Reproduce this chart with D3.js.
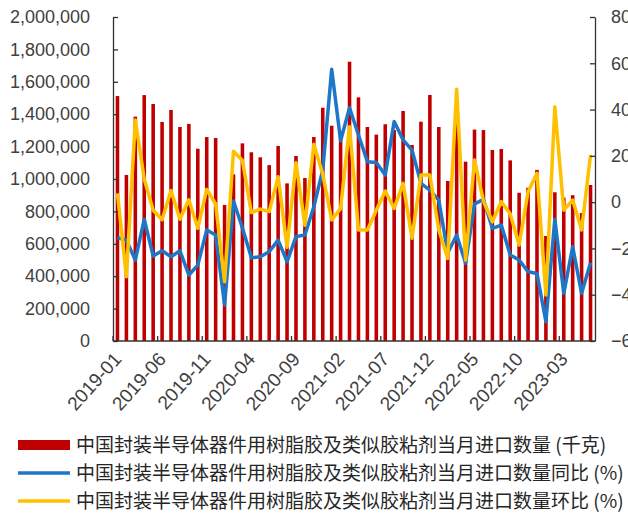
<!DOCTYPE html>
<html>
<head>
<meta charset="utf-8">
<script src="https://cdn.jsdelivr.net/npm/d3@7"></script>
<style>
  body { margin: 0; background: #fff; }
  svg { display: block; }
  .tick text { font-family: "Liberation Sans", Arial, sans-serif; fill: #404040; }
  .legend text { font-family: "Noto Sans CJK SC", sans-serif; fill: #262626; }
</style>
</head>
<body>
<svg width="628" height="517"></svg>
<script>
// monthly categories 2019-01 .. 2023-06
var months = d3.timeMonths(new Date(2019, 0, 1), new Date(2023, 6, 1)).map(d3.timeFormat('%Y-%m'));
var tickLabels = ['2019-01', '2019-06', '2019-11', '2020-04', '2020-09', '2021-02',
                  '2021-07', '2021-12', '2022-05', '2022-10', '2023-03'];

// 当月进口数量 (千克)
var volume = [1512000, 1025000, 1385000, 1518000, 1463000, 1352000, 1426000, 1321000, 1340000, 1187000,
              1259000, 1253000, 840000, 1029000, 1220000, 1165000, 1134000, 1086000, 1204000, 973000,
              1142000, 1006000, 1259000, 1440000, 1329000, 1295000, 1724000, 1504000, 1321000, 1274000,
              1338000, 1302000, 1420000, 1210000, 1354000, 1519000, 1321000, 988000, 1470000, 1107000,
              1305000, 1302000, 1179000, 1185000, 1115000, 915000, 946000, 1056000, 648000, 918000,
              885000, 900000, 790000, 963000];
// 同比 (%)
var yoy = [-15.4, -16.4, -25.0, -7.4, -23.3, -21.0, -23.6, -21.0, -31.5, -27.2,
           -12.0, -14.2, -44.4, 0.5, -11.2, -24.0, -23.6, -21.4, -16.4, -25.7,
           -14.9, -14.2, -2.0, 13.9, 57.4, 26.5, 40.8, 29.0, 17.5, 17.1,
           11.7, 34.8, 26.9, 22.5, 8.1, 5.2, 0.9, -22.0, -14.2, -26.4,
           -0.8, 1.2, -11.3, -9.9, -22.8, -25.0, -30.1, -30.8, -51.7, -7.4,
           -39.4, -19.3, -39.4, -26.2];
// 环比 (%)
var mom = [3.8, -32.2, 35.5, 10.0, -3.5, -7.6, 5.0, -7.4, 1.0, -11.3,
           5.5, -0.8, -34.4, 22.0, 18.0, -4.5, -3.0, -4.1, 11.0, -19.5,
           17.0, -10.0, 25.0, 12.0, -7.7, -2.7, 32.6, -12.0, -12.0, -3.5,
           4.8, -2.7, 8.1, -15.6, 11.7, 11.7, -12.0, -24.3, 48.8, -25.0,
           18.2, 0.5, -8.5, 0.2, -5.0, -18.5, 4.5, 12.5, -40.1, 41.2,
           -3.4, 0.9, -12.0, 20.4];

var legendItems = [
  {name: '中国封装半导体器件用树脂胶及类似胶粘剂当月进口数量 (千克)', color: '#C00000', type: 'bar'},
  {name: '中国封装半导体器件用树脂胶及类似胶粘剂当月进口数量同比 (%)', color: '#1E77C6', type: 'line'},
  {name: '中国封装半导体器件用树脂胶及类似胶粘剂当月进口数量环比 (%)', color: '#FFC000', type: 'line'}
];

var plotL = 113, plotR = 595, plotT = 17, plotB = 341;
var svg = d3.select('svg');

var x = d3.scaleBand()
  .domain(months)
  .range([plotL, plotR])
  .paddingInner(0.6)
  .paddingOuter(0.3);
var step = x.step();
var cx = d => x(d) + x.bandwidth() / 2;

var yL = d3.scaleLinear().domain([0, 2000000]).range([plotB, plotT]);
var yR = d3.scaleLinear().domain([-60, 80]).range([plotB, plotT]);

// bars
svg.append('g')
  .selectAll('rect')
  .data(volume)
  .enter().append('rect')
    .attr('x', (d, i) => x(months[i]))
    .attr('width', x.bandwidth())
    .attr('y', d => yL(d))
    .attr('height', d => yL(0) - yL(d))
    .attr('fill', '#C00000');

// lines
var line = d3.line()
  .x((d, i) => cx(months[i]))
  .y(d => yR(d));

svg.append('path')
  .datum(yoy)
  .attr('d', line)
  .attr('fill', 'none')
  .attr('stroke', '#1E77C6')
  .attr('stroke-width', 3.5)
  .attr('stroke-linejoin', 'round');

svg.append('path')
  .datum(mom)
  .attr('d', line)
  .attr('fill', 'none')
  .attr('stroke', '#FFC000')
  .attr('stroke-width', 3.5)
  .attr('stroke-linejoin', 'round');

// left axis
var axL = svg.append('g')
  .attr('transform', 'translate(' + plotL + ',0)')
  .call(d3.axisLeft(yL)
    .tickValues(d3.range(0, 2000001, 200000))
    .tickFormat(d3.format(','))
    .tickSizeInner(-5)
    .tickSizeOuter(0)
    .tickPadding(23));

// right axis
var axR = svg.append('g')
  .attr('transform', 'translate(' + plotR + ',0)')
  .call(d3.axisRight(yR)
    .tickValues(d3.range(-60, 81, 20))
    .tickSizeInner(-5)
    .tickSizeOuter(0)
    .tickPadding(16));

[axL, axR].forEach(ax => {
  ax.select('.domain').attr('stroke', '#333').attr('stroke-width', 1.3);
  ax.selectAll('.tick line').attr('stroke', '#333').attr('stroke-width', 1.3);
  ax.selectAll('.tick text').style('font-size', '18px').attr('fill', '#404040');
});

// bottom axis
var axB = svg.append('g');
axB.append('line')
  .attr('x1', plotL).attr('x2', plotR)
  .attr('y1', plotB).attr('y2', plotB)
  .attr('stroke', '#333').attr('stroke-width', 1.3);

axB.selectAll('line.tk')
  .data(tickLabels)
  .enter().append('line')
    .attr('class', 'tk')
    .attr('x1', d => cx(d) - step / 2)
    .attr('x2', d => cx(d) - step / 2)
    .attr('y1', plotB)
    .attr('y2', plotB - 5)
    .attr('stroke', '#333')
    .attr('stroke-width', 1.3);

axB.selectAll('text')
  .data(tickLabels)
  .enter().append('text')
    .attr('class', 'tick')
    .attr('transform', d => 'translate(' + (cx(d) + 5) + ',' + (plotB + 19) + ') rotate(-48)')
    .attr('text-anchor', 'end')
    .style('font-family', '"Liberation Sans", Arial, sans-serif')
    .style('font-size', '19px')
    .attr('fill', '#404040')
    .text(d => d);

// legend
var legend = svg.append('g').attr('class', 'legend');
var rows = legend.selectAll('g')
  .data(legendItems)
  .enter().append('g')
    .attr('transform', (d, i) => 'translate(18,' + (445 + i * 28) + ')');

rows.filter(d => d.type === 'bar').append('rect')
  .attr('x', 0).attr('y', -5)
  .attr('width', 52).attr('height', 10)
  .attr('fill', d => d.color);

rows.filter(d => d.type === 'line').append('line')
  .attr('x1', 0).attr('x2', 52)
  .attr('y1', 0).attr('y2', 0)
  .attr('stroke', d => d.color)
  .attr('stroke-width', 3.5);

rows.append('text')
  .attr('x', 58)
  .attr('y', 0)
  .attr('dy', '0.36em')
  .style('font-size', '19px')
  .text(d => d.name);
</script>
</body>
</html>
